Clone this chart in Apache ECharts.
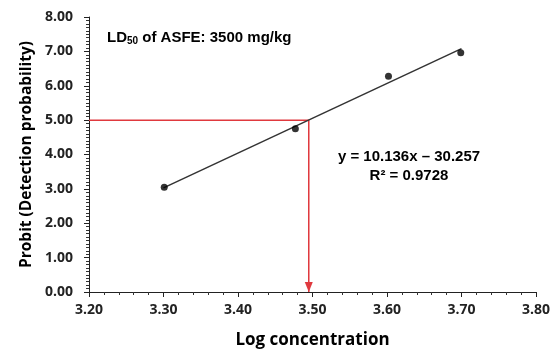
<!DOCTYPE html>
<html>
<head>
<meta charset="utf-8">
<script src="https://cdn.jsdelivr.net/npm/echarts@6/dist/echarts.min.js"></script>
<style>
  html, body { margin: 0; padding: 0; background: #fff; }
  #chart { width: 551px; height: 351px; }
</style>
</head>
<body>
<div id="chart"></div>
<script>
  // observed probit points (log dose, probit)
  var logDose = [3.301, 3.477, 3.602, 3.699]
  var probit = [3.05, 4.75, 6.28, 6.96]
  // fitted line end points as drawn
  var fitX = [3.30, 3.70]
  var fitY = [3.03, 7.08]
  // LD50 guide: from y axis at probit 5 across to the line, then down
  var guideX = [3.20, 3.495, 3.495]
  var guideY = [5, 5, 0]

  var tickFont = '"Open Sans", "Liberation Sans", sans-serif'
  var myChart = echarts.init(document.getElementById('chart'))

  var points = logDose.map(function (x, i) { return [x, probit[i]] })
  var fit = fitX.map(function (x, i) { return [x, fitY[i]] })
  var guide = guideX.map(function (x, i) {
    var item = { value: [x, guideY[i]], symbol: 'none' }
    if (i === guideX.length - 1) {
      item.symbol = 'triangle'
      item.symbolSize = [8, 10]
      item.symbolRotate = 180
      item.symbolOffset = [0, -5]
    }
    return item
  })

  myChart.setOption({
    animation: false,
    grid: { left: 89, right: 15, top: 17, bottom: 59, outerBoundsMode: 'none' },
    xAxis: {
      type: 'value',
      min: 3.2,
      max: 3.8,
      interval: 0.1,
      name: 'Log concentration',
      nameLocation: 'middle',
      nameGap: 40,
      nameTextStyle: { fontFamily: tickFont, fontWeight: 'bold', fontSize: 17, color: '#000' },
      axisLine: { show: true, lineStyle: { color: '#222', width: 1 } },
      axisTick: { show: true, length: 5, lineStyle: { color: '#222', width: 1 } },
      minorTick: { show: true, splitNumber: 5, length: 3, lineStyle: { color: '#333', width: 1 } },
      splitLine: { show: false },
      axisLabel: {
        margin: 11,
        fontFamily: tickFont,
        fontWeight: 'bold',
        fontSize: 14,
        color: '#222',
        formatter: function (v) { return v.toFixed(2) }
      }
    },
    yAxis: {
      type: 'value',
      min: 0,
      max: 8,
      interval: 1,
      name: 'Probit (Detection probability)',
      nameLocation: 'middle',
      nameGap: 52,
      nameTextStyle: { fontFamily: tickFont, fontWeight: 'bold', fontSize: 15.5, color: '#000' },
      axisLine: { show: true, lineStyle: { color: '#222', width: 1 } },
      axisTick: { show: true, length: 5, lineStyle: { color: '#222', width: 1 } },
      minorTick: { show: true, splitNumber: 10, length: 3, lineStyle: { color: '#333', width: 1 } },
      splitLine: { show: false },
      axisLabel: {
        margin: 16,
        fontFamily: tickFont,
        fontWeight: 'bold',
        fontSize: 14,
        color: '#222',
        formatter: function (v) { return v.toFixed(2) }
      }
    },
    graphic: [
      {
        type: 'text',
        left: 107,
        top: 30,
        style: {
          text: '{b|LD}{s|50}{b| of ASFE: 3500 mg/kg}',
          rich: {
            b: { fontFamily: 'Liberation Sans', fontWeight: 'bold', fontSize: 15, fill: '#000' },
            s: { fontFamily: 'Liberation Sans', fontWeight: 'bold', fontSize: 10, fill: '#000', verticalAlign: 'bottom', padding: [7, 0, 0, 0] }
          }
        }
      },
      {
        type: 'text',
        x: 409,
        y: 147,
        style: {
          text: 'y = 10.136x \u2013 30.257\nR\u00b2 = 0.9728',
          align: 'center',
          verticalAlign: 'top',
          lineHeight: 19,
          font: 'bold 15px "Liberation Sans"',
          fill: '#000'
        }
      }
    ],
    series: [
      {
        type: 'line',
        data: guide,
        lineStyle: { color: '#e0393e', width: 1.5 },
        itemStyle: { color: '#e0393e' },
        z: 2
      },
      {
        type: 'line',
        data: fit,
        showSymbol: false,
        lineStyle: { color: '#333', width: 1.5 },
        z: 3
      },
      {
        type: 'scatter',
        data: points,
        symbolSize: 7,
        itemStyle: { color: '#000' },
        z: 4
      }
    ]
  })
</script>
</body>
</html>
